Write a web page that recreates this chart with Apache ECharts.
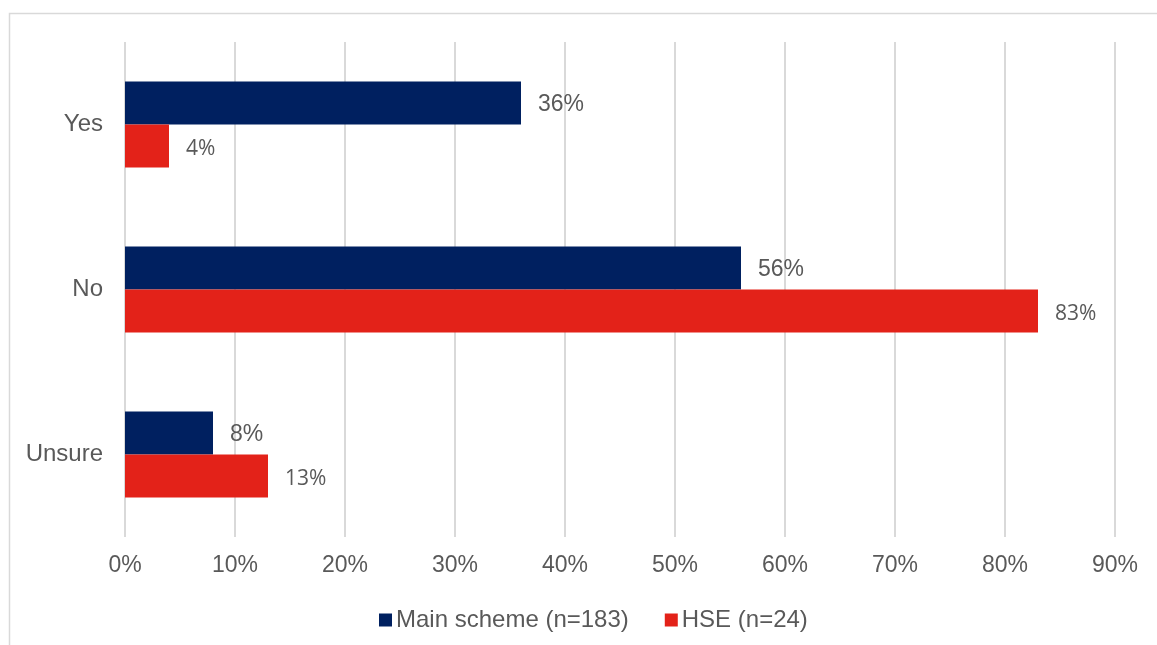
<!DOCTYPE html>
<html>
<head>
<meta charset="utf-8">
<script src="https://cdn.jsdelivr.net/npm/echarts@6/dist/echarts.min.js"></script>
<style>
  html, body { margin: 0; padding: 0; background: #fff; }
  #chart { width: 1157px; height: 645px; }
</style>
</head>
<body>
<div id="chart"></div>
<script>
// Survey answers by group (percent of respondents)
const categories = ['Yes', 'No', 'Unsure'];
const mainScheme = [36, 56, 8];
const hse = [4, 83, 13];
const seriesNames = ['Main scheme (n=183)', 'HSE (n=24)'];

const textColor = '#595959';
const gridColor = '#D9D9D9';
const sans = "'Liberation Sans', Arial, sans-serif";

const chart = echarts.init(document.getElementById('chart'), null, { renderer: 'canvas' });

chart.setOption({
  animation: false,
  backgroundColor: '#ffffff',
  graphic: [{
    type: 'rect',
    left: 7, top: 11,
    shape: { width: 1170, height: 660 },
    style: { fill: 'none', stroke: gridColor, lineWidth: 1.5 },
    silent: true, z: -1
  }],
  grid: { left: 125, right: 42, top: 42, bottom: 108, containLabel: false },
  legend: {
    left: 374, top: 603,
    itemWidth: 13, itemHeight: 13, itemGap: 36,
    icon: 'rect',
    textStyle: { color: textColor, fontSize: 24, fontFamily: sans, padding: [0, 0, 0, -1] },
    data: seriesNames
  },
  xAxis: {
    type: 'value',
    min: 0, max: 90, interval: 10,
    axisLine: { show: false },
    axisTick: { show: false },
    axisLabel: { color: textColor, fontSize: 23, fontFamily: sans, margin: 17, formatter: '{value}%' },
    splitLine: { show: true, lineStyle: { color: gridColor, width: 2 } }
  },
  yAxis: {
    type: 'category',
    inverse: true,
    data: categories,
    axisLine: { show: false },
    axisTick: { show: false },
    axisLabel: { color: textColor, fontSize: 24, fontFamily: sans, margin: 22, lineHeight: 30, verticalAlign: 'middle' },
    splitLine: { show: false }
  },
  series: [
    {
      name: seriesNames[0],
      type: 'bar',
      data: mainScheme,
      barGap: '0%',
      barCategoryGap: '48%',
      itemStyle: { color: '#002060' },
      label: {
        show: true, position: 'right', distance: 17, offset: [0, 2],
        color: textColor, fontSize: 23, fontFamily: sans,
        formatter: p => p.value + '%'
      }
    },
    {
      name: seriesNames[1],
      type: 'bar',
      data: hse,
      barGap: '0%',
      barCategoryGap: '48%',
      itemStyle: { color: '#E32219' },
      label: {
        show: true, position: 'right', distance: 17, offset: [0, 3],
        color: textColor, fontSize: 21, fontFamily: "'Open Sans', sans-serif",
        formatter: p => p.value + '%'
      }
    }
  ]
});
</script>
</body>
</html>
